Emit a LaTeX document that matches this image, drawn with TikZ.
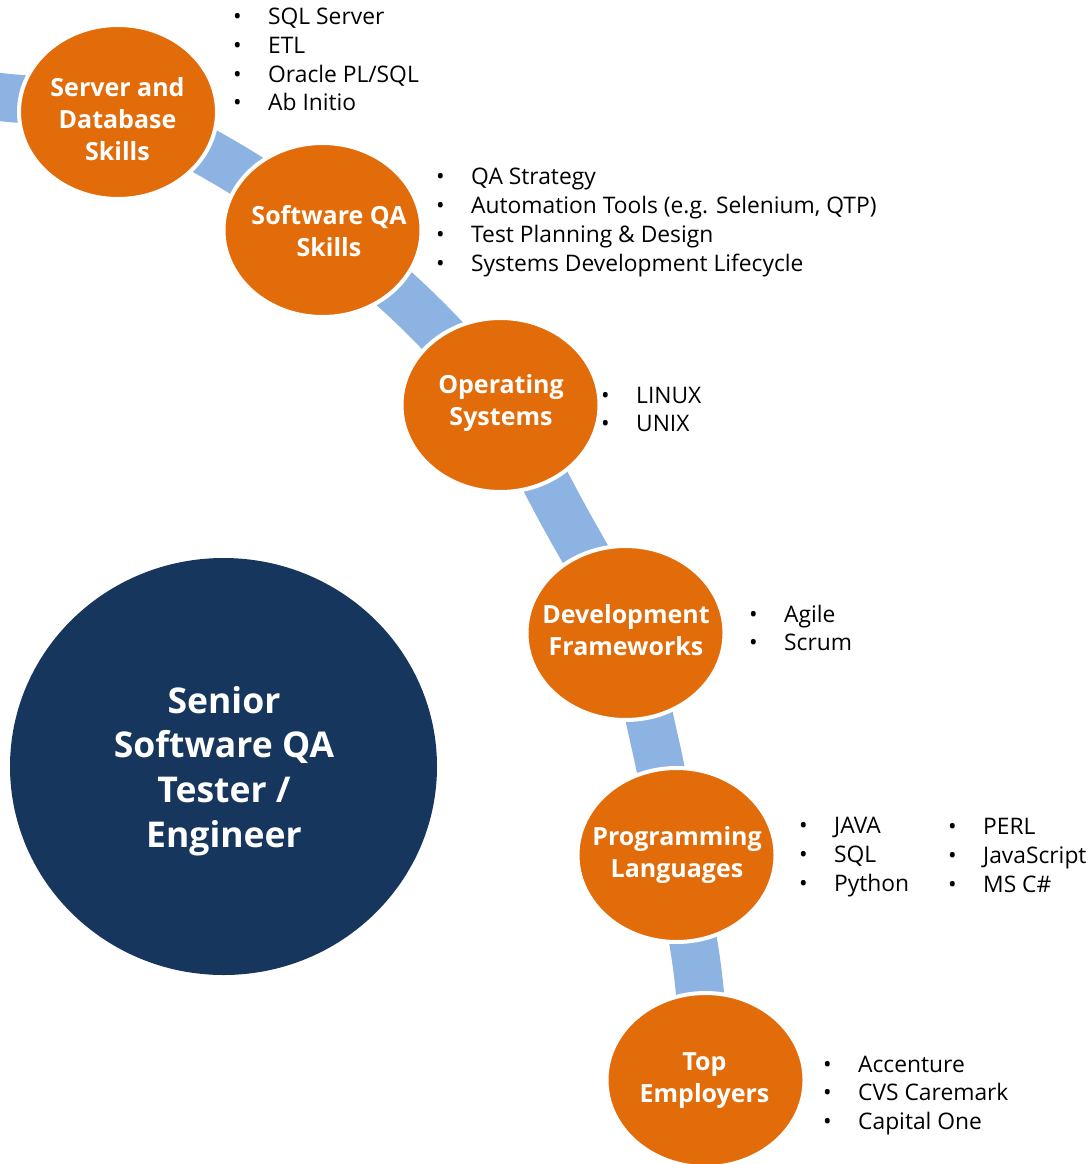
\documentclass[tikz,border=0pt]{standalone}
\usepackage{fontspec}
\setmainfont{Open Sans}
\usetikzlibrary{shapes.geometric}
\definecolor{orangeA}{HTML}{E36C0A}
\definecolor{bandblue}{HTML}{8DB3E2}
\definecolor{navy}{HTML}{17365D}
\newcommand\blitem[1]{\makebox[35pt][l]{\textbullet}#1}
\begin{document}
\begin{tikzpicture}[x=1pt,y=-1pt,
  orb/.style={ellipse, fill=orangeA, draw=white, line width=4pt, minimum width=198pt, minimum height=174pt, inner sep=0pt},
  orblabel/.style={text=white, font=\bfseries\fontsize{25}{32}\selectfont, align=center, inner sep=0pt},
  biglabel/.style={text=white, font=\bfseries\fontsize{35.5}{44.7}\selectfont, align=center, inner sep=0pt},
  bullets/.style={font=\fontsize{22.8}{28.7}\selectfont, align=left, inner sep=0pt, anchor=west},
  band/.style={draw=bandblue, line width=48pt}]
\useasboundingbox (0,0) rectangle (1087,1164);
\clip (0,0) rectangle (1087,1164);
% positions
\coordinate (c1) at (118,112);
\coordinate (c2) at (322.5,230);
\coordinate (c3) at (500.5,405);
\coordinate (c4) at (625.5,633);
\coordinate (c5) at (676.5,855);
\coordinate (c6) at (705.5,1080);
\coordinate (e0) at (-60,90);
\coordinate (g0) at (0,97);
\coordinate (g1) at (225.5,163);
\coordinate (g2) at (419,312);
\coordinate (g3) at (565,518);
\coordinate (g4) at (655,743);
\coordinate (g5) at (697,967);
\coordinate (e1) at (709,1220);
% band
\draw[band] plot[smooth, tension=0.6] coordinates {(e0) (g0) (c1) (g1) (c2) (g2) (c3) (g3) (c4) (g4) (c5) (g5) (c6) (e1)};
% central circle
\node[ellipse, fill=navy, minimum width=427pt, minimum height=417pt, inner sep=0pt] (core) at (223.5,766.5) {};
\node[biglabel] (coret) at (224,771) {Senior\\Software QA\\Tester /\\Engineer};
% orbs
\node[orb] (n1) at (c1) {};
\node[orb] (n2) at (c2) {};
\node[orb] (n3) at (c3) {};
\node[orb] (n4) at (c4) {};
\node[orb] (n5) at (c5) {};
\node[orb] (n6) at (c6) {};
\node[orblabel] (t1) at (117.5,119) {Server and\\Database\\Skills};
\node[orblabel] (t2) at (329,231.5) {Software QA\\Skills};
\node[orblabel] (t3) at (501,403.5) {Operating\\Systems};
\node[orblabel] (t4) at (626,630.5) {Development\\Frameworks};
\node[orblabel] (t5) at (677,854.5) {Programming\\Languages};
\node[orblabel] (t6) at (704.5,1080.5) {Top\\Employers};
% lists
\node[bullets] (l1) at (233,59.5) {\blitem{SQL Server}\\\blitem{ETL}\\\blitem{Oracle PL/SQL}\\\blitem{Ab Initio}};
\node[bullets] (l2) at (436,222.5) {\blitem{QA Strategy}\\\blitem{Automation Tools (e.g. Selenium, QTP)}\\\blitem{Test Planning \& Design}\\\blitem{Systems Development Lifecycle}};
\node[bullets] (l3) at (601,409.5) {\blitem{LINUX}\\\blitem{UNIX}};
\node[bullets] (l4) at (749,628) {\blitem{Agile}\\\blitem{Scrum}};
\node[bullets] (l5) at (799,857) {\blitem{JAVA}\\\blitem{SQL}\\\blitem{Python}};
\node[bullets] (l6) at (948,855.5) {\blitem{PERL}\\\blitem{JavaScript}\\\blitem{MS C\#}};
\node[bullets] (l7) at (823,1095.5) {\blitem{Accenture}\\\blitem{CVS Caremark}\\\blitem{Capital One}};
\end{tikzpicture}
\end{document}
